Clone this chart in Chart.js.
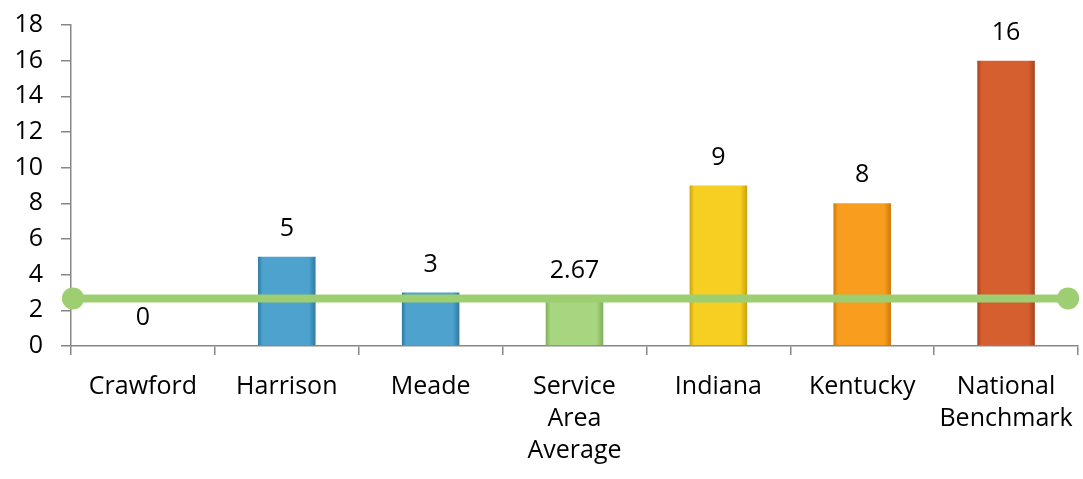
<!DOCTYPE html>
<html>
<head>
<meta charset="utf-8">
<script src="https://cdn.jsdelivr.net/npm/chart.js@4.4.0/dist/chart.umd.min.js"></script>
<style>
  html, body { margin: 0; padding: 0; background: #ffffff; }
  #wrap { width: 1083px; height: 479px; }
</style>
</head>
<body>
<div id="wrap"><canvas id="grafico" width="1083" height="479"></canvas></div>
<script>
const categorias = [
    'Crawford',
    'Harrison',
    'Meade',
    ['Service', 'Area', 'Average'],
    'Indiana',
    'Kentucky',
    ['National', 'Benchmark']
]
const valores = [0, 5, 3, 2.67, 9, 8, 16]
const etiquetas = ['0', '5', '3', '2.67', '9', '8', '16']
const promedio = [2.67, 2.67]
const promedioX = [0, 1]
const yTicks = [0, 2, 4, 6, 8, 10, 12, 14, 16, 18]

const colores = ['#4da3cd', '#4da3cd', '#4da3cd', '#a7d580', '#f6cf22', '#f99d1f', '#d65f2f']
const oscuros = ['#2f7aa3', '#2f7aa3', '#2f7aa3', '#7fae58', '#c9a20c', '#cc7a0a', '#a84220']

const fuente = '"Open Sans", "Noto Sans", sans-serif'
const anchoBarra = 0.4

// degradado horizontal para imitar el bisel de las barras
function rellenoBarra(context) {
    const i = context.dataIndex
    const chart = context.chart
    const xScale = chart.scales.x
    if (!chart.chartArea || !xScale || xScale.width === 0) return colores[i]
    const centro = xScale.getPixelForValue(i)
    const w = xScale.width / categorias.length * anchoBarra
    const g = chart.ctx.createLinearGradient(centro - w / 2, 0, centro + w / 2, 0)
    g.addColorStop(0, oscuros[i])
    g.addColorStop(0.08, colores[i])
    g.addColorStop(0.88, colores[i])
    g.addColorStop(1, oscuros[i])
    return g
}

const etiquetasPlugin = {
    id: 'etiquetas',
    afterDatasetsDraw(chart) {
        const { ctx } = chart
        const meta = chart.getDatasetMeta(1)
        ctx.save()
        ctx.font = '25px ' + fuente
        ctx.fillStyle = '#000000'
        ctx.textAlign = 'center'
        ctx.textBaseline = 'middle'
        meta.data.forEach((bar, i) => {
            ctx.fillText(etiquetas[i], bar.x, bar.y - 28)
        })
        ctx.restore()
    }
}

const config = {
    type: 'bar',
    data: {
        labels: categorias,
        datasets: [
            {
                type: 'line',
                label: 'Promedio',
                data: promedioX.map((x, i) => ({ x: x, y: promedio[i] })),
                xAxisID: 'x2',
                yAxisID: 'y',
                borderColor: '#9dce72',
                backgroundColor: '#9dce72',
                borderWidth: 8,
                pointRadius: 11,
                pointHoverRadius: 11,
                pointBorderWidth: 0,
                clip: false,
                order: 0
            },
            {
                type: 'bar',
                label: 'Valor',
                data: valores,
                xAxisID: 'x',
                yAxisID: 'y',
                backgroundColor: rellenoBarra,
                borderWidth: 0,
                grouped: false,
                barPercentage: anchoBarra,
                categoryPercentage: 1,
                order: 1
            }
        ]
    },
    plugins: [etiquetasPlugin],
    options: {
        responsive: false,
        animation: false,
        layout: { autoPadding: false, padding: { top: 25, right: 5, left: 0, bottom: 0 } },
        plugins: {
            legend: { display: false },
            tooltip: { enabled: false }
        },
        scales: {
            x: {
                type: 'category',
                offset: true,
                grid: {
                    offset: true,
                    drawOnChartArea: false,
                    drawTicks: true,
                    tickLength: 9,
                    color: '#878787',
                    lineWidth: 1.5
                },
                border: { color: '#878787', width: 1.5 },
                ticks: {
                    color: '#000000',
                    padding: 16,
                    maxRotation: 0,
                    autoSkip: false,
                    font: { size: 25, family: fuente, lineHeight: 1.28 }
                },
                afterFit: scale => {
                    scale.height = 133
                    scale.paddingLeft = 0
                    scale.paddingRight = 0
                }
            },
            x2: {
                type: 'linear',
                display: false,
                offset: false,
                grid: { offset: false },
                min: -0.002,
                max: 1.01
            },
            y: {
                min: 0,
                max: 18,
                afterBuildTicks: scale => { scale.ticks = yTicks.map(v => ({ value: v })) },
                grid: {
                    drawOnChartArea: false,
                    drawTicks: true,
                    tickLength: 10,
                    color: '#878787',
                    lineWidth: 1.5
                },
                border: { color: '#878787', width: 1.5 },
                ticks: {
                    color: '#000000',
                    padding: 18,
                    font: { size: 25, family: fuente }
                },
                afterFit: scale => {
                    scale.width = 71
                    scale.paddingTop = 0
                    scale.paddingBottom = 0
                }
            }
        }
    }
}

const chartInstance = new Chart(document.getElementById('grafico'), config)
</script>
</body>
</html>
